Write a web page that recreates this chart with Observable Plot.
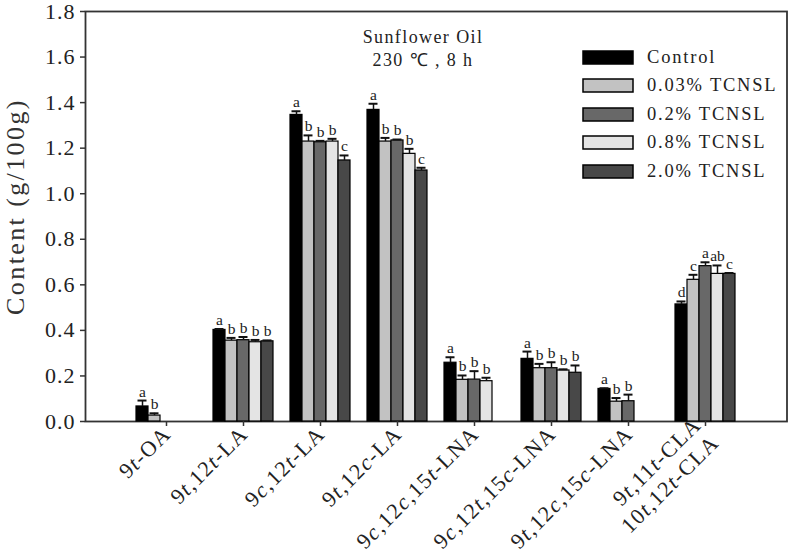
<!DOCTYPE html>
<html><head><meta charset="utf-8">
<script src="https://cdn.jsdelivr.net/npm/d3@7"></script>
<script src="https://cdn.jsdelivr.net/npm/@observablehq/plot@0.6"></script>
<style>
body{margin:0;background:#fff;}
#wrap{position:relative;width:788px;height:556px;font-family:"Liberation Serif","Times New Roman",serif;}
#wrap > svg{position:absolute;left:0;top:0;}
#legend{position:absolute;left:582px;top:43px;}
#legend .row{display:flex;align-items:center;height:28.5px;font-size:18.5px;letter-spacing:1.8px;color:#222;}
#legend svg{margin-right:13px;}
#title{position:absolute;left:323px;width:200px;top:26px;text-align:center;font-size:18px;letter-spacing:1.4px;line-height:23px;color:#222;}
</style></head><body><div id="wrap"></div>
<script>
const categories = ["9t-OA","9t,12t-LA","9c,12t-LA","9t,12c-LA","9c,12c,15t-LNA","9c,12t,15c-LNA","9t,12c,15c-LNA","9t,11t-CLA\n10t,12t-CLA"];
const series = ["Control","0.03% TCNSL","0.2% TCNSL","0.8% TCNSL","2.0% TCNSL"];
const colors = ["#000000","#c2c2c2","#686868","#e4e4e4","#484848"];
const yTicks = [0,0.2,0.4,0.6,0.8,1.0,1.2,1.4,1.6,1.8];

const valControl = [0.066,0.402,1.346,1.368,0.258,0.275,0.143,0.514];
const errControl = [0.026,0.004,0.016,0.027,0.024,0.032,0.003,0.013];
const valT003 = [0.026,0.355,1.229,1.229,0.183,0.234,0.087,0.622];
const errT003 = [0.010,0.012,0.027,0.016,0.019,0.019,0.016,0.022];
const valT02 = [null,0.357,1.226,1.234,0.184,0.234,0.089,0.682];
const errT02 = [null,0.014,0.006,0.004,0.037,0.026,0.029,0.017];
const valT08 = [null,0.348,1.229,1.175,0.177,0.224,null,0.648];
const errT08 = [null,0.010,0.012,0.022,0.015,0.005,null,0.037];
const valT20 = [null,0.352,1.146,1.102,null,0.214,null,0.648];
const errT20 = [null,0.004,0.022,0.012,null,0.032,null,0.004];

const letControl = ["a","a","a","a","a","a","a","d"];
const letT003 = ["b","b","b","b","b","b","b","c"];
const letT02 = ["","b","b","b","b","b","b","a"];
const letT08 = ["","b","b","b","b","b","","ab"];
const letT20 = ["","b","c","c","","b","","c"];

const vals = [valControl,valT003,valT02,valT08,valT20];
const errs = [errControl,errT003,errT02,errT08,errT20];
const lets = [letControl,letT003,letT02,letT08,letT20];

const rows = [];
categories.forEach((c,i)=>{
  series.forEach((s,j)=>{
    const v = vals[j][i];
    if (v == null) return;
    rows.push({cat:c, series:s, value:v, top:v+(errs[j][i]||0), letter:lets[j][i]});
  });
});

const serif = "'Liberation Serif', 'Times New Roman', serif";
const W = 788, H = 556, mL = 85, mR = 1.5, mT = 11, mB = 135;

// base layer: frame, y axis, y label
const base = Plot.plot({
  width: W, height: H, marginLeft: mL, marginRight: mR, marginTop: mT, marginBottom: mB,
  style: {fontFamily: serif, color: "#222", background: "#fff"},
  x: {domain: [0,1], axis: null},
  y: {domain: [0,1.8], axis: null},
  marks: [
    Plot.axisY({ticks:yTicks, tickFormat: d=>d.toFixed(1), tickSize:5, tickPadding:5, fontSize:22, label:null, stroke:"#333", strokeWidth:1.5}),
    Plot.text(["Content (g/100g)"], {frameAnchor:"left", textAnchor:"middle", rotate:-90, dx:-70, dy:-10, fontSize:26, fill:"#333"}),
    Plot.frame({stroke:"#333", strokeWidth:1.8})
  ]
});

// bar layer, faceted by compound
const chart = Plot.plot({
  width: W, height: H, marginLeft: mL, marginRight: mR, marginTop: mT, marginBottom: mB,
  style: {fontFamily: serif, color: "#222", background: "transparent"},
  fx: {domain: categories, paddingInner: 0.2, paddingOuter: 0.6, label: null},
  x: {domain: series, padding: 0, axis: null},
  y: {domain: [0,1.8], axis: null},
  color: {domain: series, range: colors},
  marks: [
    Plot.barY(rows, {fx:"cat", x:"series", y:"value", fill:"series", stroke:"#000", strokeWidth:1.2}),
    Plot.ruleX(rows, {fx:"cat", x:"series", y1:"value", y2:"top", stroke:"#111", strokeWidth:1.5}),
    Plot.tickY(rows, {fx:"cat", x:"series", y:"top", stroke:"#111", strokeWidth:2, insetLeft:1.5, insetRight:1.5}),
    Plot.text(rows, {fx:"cat", x:"series", y:"top", text:"letter", dy:-9, fontSize:15.5, fill:"#222"}),
    Plot.axisFx({anchor:"bottom", tickRotate:-45, tickSize:5, tickPadding:3, fontSize:22, lineHeight:1.15, label:null, stroke:"#333", strokeWidth:1.5})
  ]
});
const wrap = document.getElementById("wrap");
wrap.appendChild(base);
wrap.appendChild(chart);

// italic t / c locants in the x labels
d3.select(chart).selectAll("g[aria-label='fx-axis tick label'] text").each(function(){
  const t = d3.select(this);
  const targets = t.selectAll("tspan").size() ? t.selectAll("tspan").nodes() : [this];
  targets.forEach(node=>{
    const str = node.textContent;
    const parts = str.split(/(?<=\d)([tc])(?=[,\-])/);
    node.textContent = "";
    parts.forEach((p,k)=>{
      const ts = document.createElementNS("http://www.w3.org/2000/svg","tspan");
      ts.textContent = p;
      if (k % 2 === 1) ts.setAttribute("font-style","italic");
      node.appendChild(ts);
    });
  });
});
d3.select(chart).selectAll("g[aria-label='fx-axis tick label']").attr("letter-spacing","1.3");
d3.select(base).selectAll("g[aria-label='y-axis tick label']").attr("letter-spacing","1");
d3.select(base).selectAll("g[aria-label='text']").attr("letter-spacing","2.4");

// legend
const lg = document.createElement("div"); lg.id = "legend";
series.forEach((s,j)=>{
  const r = document.createElement("div"); r.className = "row";
  r.innerHTML = `<svg width="52" height="15"><rect x="1" y="1" width="50" height="13" fill="${colors[j]}" stroke="#000" stroke-width="1.5"/></svg><span>${s}</span>`;
  lg.appendChild(r);
});
wrap.appendChild(lg);

// title
const tt = document.createElement("div"); tt.id = "title";
tt.innerHTML = "Sunflower Oil<br>230 ℃ , 8 h";
wrap.appendChild(tt);
</script></body></html>
